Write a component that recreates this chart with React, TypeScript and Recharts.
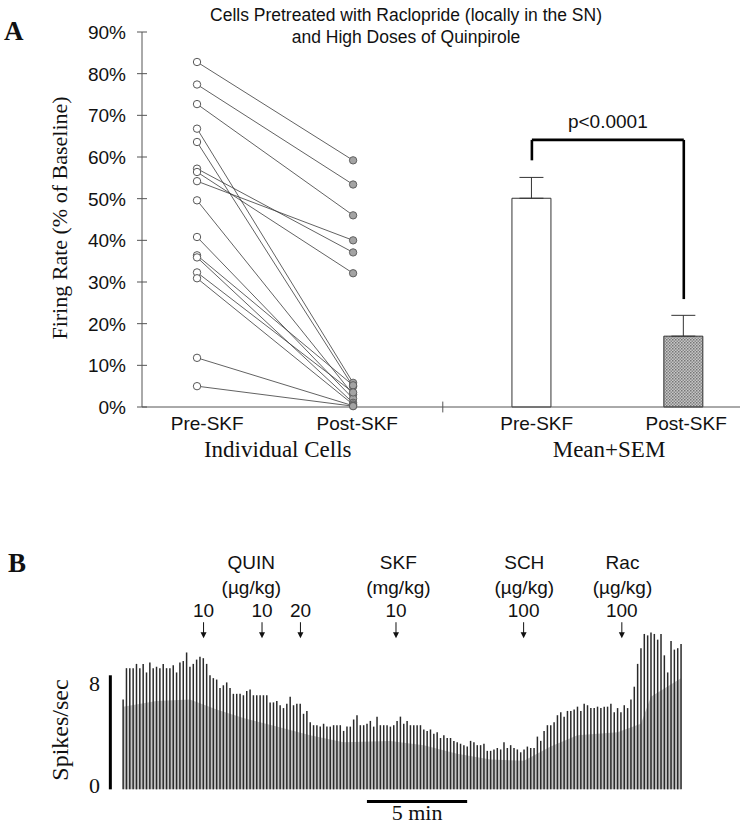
import React from 'react'
import {
  ComposedChart, Scatter, Bar, Cell, ErrorBar, Area, XAxis, YAxis, ReferenceLine, ReferenceDot,
} from 'recharts'

const SANS = '"Liberation Sans", Arial, Helvetica, sans-serif'
const SERIF = '"Liberation Serif", "Times New Roman", Times, serif'

// ---- panel A : individual cells (firing rate, % of baseline)
const CELL_PRE = [82.8, 77.4, 72.7, 66.8, 63.6, 57.2, 56.4, 54.2, 49.6, 40.8, 36.4, 35.9, 32.3, 30.9, 11.8, 5.0]
const CELL_POST = [59.2, 53.4, 46.0, 5.8, 4.9, 37.1, 32.1, 40.0, 3.0, 2.0, 5.2, 1.0, 3.5, 0.6, 0.3, 0.2]

// ---- panel A : mean + SEM
const BAR_NAMES = ['Pre-SKF', 'Post-SKF']
const BAR_MEAN = [50.1, 17.0]
const BAR_SEM = [5.0, 5.0]

const X_TICK_LABELS = ['Pre-SKF', 'Post-SKF', 'Pre-SKF', 'Post-SKF']
const GROUP_LABELS = ['Individual Cells', 'Mean+SEM']
const PCT_TICKS = [0, 10, 20, 30, 40, 50, 60, 70, 80, 90]

// ---- panel B : rate histogram, 10 s bins (spikes/sec)
const BIN_SEC = 10
const RATE = [
  6.3, 8.5, 8.5, 8.5, 8.8, 8.5, 8.8, 8.2, 8.9, 8.5,
  8.6, 8.5, 8.8, 8.5, 8.5, 8.7, 8.2, 8.9, 9.0, 9.6,
  8.6, 8.8, 9.1, 9.3, 9.2, 8.8, 8.0, 7.8, 7.7, 7.1,
  7.3, 7.5, 7.1, 6.7, 6.7, 6.7, 6.6, 6.9, 7.0, 6.6,
  6.6, 6.6, 6.6, 6.6, 6.1, 6.1, 6.2, 5.9, 5.7, 6.0,
  6.5, 5.9, 6.0, 6.0, 5.3, 5.5, 4.7,
  4.5, 4.5, 4.4, 4.6, 4.4, 4.4, 4.5, 4.5, 4.5, 4.1,
  4.4, 4.4, 4.9, 5.2, 4.5, 4.5, 4.6, 4.8, 4.4, 5.1,
  4.5, 4.5, 4.5, 4.4, 4.5, 4.8, 5.1, 4.6, 4.8, 4.5,
  4.5, 4.5, 4.5, 4.2, 4.1, 4.2, 3.9, 4.0, 3.6, 3.8,
  3.6, 3.6, 3.4, 3.3, 3.2, 3.1, 3.0, 3.4, 3.3, 3.1,
  3.1, 3.2, 2.7, 2.7, 2.8,
  2.9, 2.8, 3.3, 2.9, 3.1, 2.9, 2.8, 2.6, 2.8, 3.0,
  2.9, 2.9, 3.7, 3.4, 4.1, 4.5, 4.5, 4.7, 5.2, 5.4,
  5.1, 5.5, 5.5, 5.6, 5.8, 5.5, 6.0, 5.9, 5.7, 5.7,
  5.8, 5.7, 5.8, 5.8, 6.0, 5.4, 5.7, 5.4, 5.9, 5.7,
  6.3, 7.2, 8.8, 9.9, 10.9, 10.8, 11.0, 10.9, 10.5, 10.9,
  9.4, 8.2, 10.4, 9.8, 9.9, 10.2,
]
// level of the grey (shorter bins) texture under the tall lines
const GREY_BINS = [0, 10, 20, 28, 36, 46, 56, 66, 80, 90, 100, 110, 120, 128, 136, 148, 155, 158, 167]
const GREY_LEVEL = [5.8, 6.2, 6.3, 5.6, 5.0, 4.4, 3.8, 3.3, 3.4, 3.1, 2.5, 2.1, 2.0, 3.0, 3.8, 4.0, 4.6, 6.5, 7.8]

const DOSE_TIMES = [241, 416, 531, 817, 1199, 1493]
const DOSE_LABELS = ['10', '10', '20', '10', '100', '100']
const DRUG_NAMES = ['QUIN', 'SKF', 'SCH', 'Rac']
const DRUG_UNITS = ['(µg/kg)', '(mg/kg)', '(µg/kg)', '(µg/kg)']
const DRUG_TIMES = [384, 824, 1201, 1495]

// layout
const PRE_X = 0.92
const POST_X = 3.53
const BAR_X = [6.52, 9.06]
const DIVIDER_X = 5.03
const LABEL_TICKS = [1.09, 3.6, 6.6, 9.1]
const GROUP_TICKS = [2.27, 7.81]
const ARROW_TIP = 10.6

const barRows = BAR_NAMES.map((name, i) => ({
  name, x: BAR_X[i], mean: BAR_MEAN[i], err: [0, BAR_SEM[i]],
}))

const cells = CELL_PRE.map((pre, i) => [
  { x: PRE_X, y: pre, phase: 'pre' },
  { x: POST_X, y: CELL_POST[i], phase: 'post' },
])
const allPoints = cells.flat()

const greyAt: Record<number, number> = {}
GREY_BINS.forEach((b, i) => { greyAt[b] = GREY_LEVEL[i] })
const traceRows = RATE.map((r, i) => ({ t: i * BIN_SEC, rate: r, grey: greyAt[i] }))

function PctTick(props: any) {
  const { x, y, payload } = props
  return (
    <g>
      <line x1={x + 11} x2={x + 21} y1={y} y2={y} stroke="#555" />
      <text x={x} y={y} dy="0.36em" textAnchor="end" fontSize={19} fontFamily={SANS} fill="#111">
        {payload.value}%
      </text>
    </g>
  )
}

function RateTick(props: any) {
  const { x, y, payload } = props
  const dy = payload.value > 0 ? 16 : 4
  return (
    <text x={x} y={y + dy} textAnchor="end" fontSize={22} fontFamily={SERIF} fill="#111">
      {payload.value}
    </text>
  )
}

function CellDot(props: any) {
  const { cx, cy, payload } = props
  const pre = payload.phase === 'pre'
  return <circle cx={cx} cy={cy} r={3.7} fill={pre ? '#fff' : '#a3a3a3'} stroke={pre ? '#444' : '#555'} strokeWidth={0.9} />
}

function DoseArrow(props: any) {
  const { cx, cy, dose } = props
  return (
    <g>
      <text x={cx} y={cy - 21} textAnchor="middle" fontSize={19} fontFamily={SANS} fill="#111">{dose}</text>
      <line x1={cx} x2={cx} y1={cy - 16} y2={cy - 5} stroke="#111" strokeWidth={1} />
      <path d={`M${cx - 3},${cy - 6} L${cx + 3},${cy - 6} L${cx},${cy} Z`} fill="#111" />
    </g>
  )
}

function DrugLabel(props: any) {
  const { cx, cy, name, unit } = props
  return (
    <g fontSize={19} fontFamily={SANS} fill="#111" textAnchor="middle">
      <text x={cx} y={cy - 69}>{name}</text>
      <text x={cx} y={cy - 44}>{unit}</text>
    </g>
  )
}

function PanelA() {
  return (
    <ComposedChart width={755} height={470} data={barRows} margin={{ top: 32, right: 15, bottom: 8, left: 0 }}>
      <XAxis
        type="number" dataKey="x" domain={[0, 10]} ticks={LABEL_TICKS}
        tickFormatter={(_v: any, i: number) => X_TICK_LABELS[i]}
        axisLine={{ stroke: '#555' }} tickLine={false} tickSize={6} tickMargin={4} height={30}
        tick={{ fontSize: 19, fontFamily: SANS, fill: '#111' }} interval={0}
      />
      <XAxis
        xAxisId="grp" type="number" dataKey="x" domain={[0, 10]} ticks={GROUP_TICKS}
        tickFormatter={(_v: any, i: number) => GROUP_LABELS[i]}
        axisLine={false} tickLine={false} tickSize={0} tickMargin={4} height={25}
        tick={{ fontSize: 23, fontFamily: SERIF, fill: '#111' }} interval={0}
      />
      <YAxis
        type="number" dataKey="y" domain={[0, 90]} ticks={PCT_TICKS} width={142}
        axisLine={{ stroke: '#555' }} tickLine={false} tickSize={5} tickMargin={11} tick={PctTick} interval={0}
      />
      {cells.map((pts, i) => (
        <Scatter key={i} data={pts} line={{ stroke: '#3a3a3a', strokeWidth: 0.8 }} shape={() => <g />} isAnimationActive={false} />
      ))}
      <Scatter data={allPoints} shape={CellDot} isAnimationActive={false} />
      <Bar dataKey="mean" barSize={39} stroke="#333" strokeWidth={1} isAnimationActive={false}>
        <Cell fill="#fff" />
        <Cell fill="url(#stipple)" />
        <ErrorBar dataKey="err" width={12} stroke="#333" strokeWidth={1} direction="y" />
      </Bar>
      <ReferenceLine segment={[{ x: DIVIDER_X, y: -1.3 }, { x: DIVIDER_X, y: 1.3 }]} stroke="#555" ifOverflow="visible" />
      <ReferenceLine
        segment={[{ x: BAR_X[0], y: 64.1 }, { x: BAR_X[1], y: 64.1 }]} stroke="#000" strokeWidth={2.6} ifOverflow="visible"
        label={{ value: 'p<0.0001', position: 'top', offset: 12, fontSize: 19, fontFamily: SANS, fill: '#111' }}
      />
      <ReferenceLine segment={[{ x: BAR_X[0], y: 64.1 }, { x: BAR_X[0], y: 59.2 }]} stroke="#000" strokeWidth={2.6} ifOverflow="visible" />
      <ReferenceLine segment={[{ x: BAR_X[1], y: 64.1 }, { x: BAR_X[1], y: 25.9 }]} stroke="#000" strokeWidth={2.6} ifOverflow="visible" />
    </ComposedChart>
  )
}

function PanelB() {
  return (
    <ComposedChart width={755} height={287} data={traceRows} margin={{ top: 64, right: 64, bottom: 2, left: 0 }}>
      <XAxis type="number" dataKey="t" domain={[-60, 1700]} hide />
      <YAxis
        type="number" domain={[-2.5, 13]} ticks={[0, 8]} width={103}
        axisLine={false} tickLine={false} tickSize={0} tickMargin={3} tick={RateTick} interval={0}
      />
      <Area dataKey="grey" type="linear" connectNulls baseValue={0} fill="#c3c3c3" fillOpacity={1} stroke="none" isAnimationActive={false} />
      <Bar dataKey="rate" barSize={1.5} fill="#2a2a2a" isAnimationActive={false} />
      <ReferenceLine segment={[{ x: -38, y: 0 }, { x: -38, y: 8 }]} stroke="#000" strokeWidth={3} ifOverflow="visible" />
      <ReferenceLine
        segment={[{ x: 730, y: -0.85 }, { x: 1030, y: -0.85 }]} stroke="#000" strokeWidth={3} ifOverflow="visible"
        label={{ value: '5 min', position: 'bottom', offset: 3, fontSize: 22, fontFamily: SERIF, fill: '#111' }}
      />
      {DOSE_TIMES.map((t, i) => (
        <ReferenceDot key={'d' + i} x={t} y={ARROW_TIP} ifOverflow="visible"
          shape={(p: any) => <DoseArrow {...p} dose={DOSE_LABELS[i]} />} />
      ))}
      {DRUG_TIMES.map((t, i) => (
        <ReferenceDot key={'g' + i} x={t} y={ARROW_TIP} ifOverflow="visible"
          shape={(p: any) => <DrugLabel {...p} name={DRUG_NAMES[i]} unit={DRUG_UNITS[i]} />} />
      ))}
    </ComposedChart>
  )
}

export default function App() {
  return (
    <div style={{ position: 'absolute', left: 0, top: 0, width: 755, height: 827, background: '#fff' }}>
      <svg width={0} height={0} style={{ position: 'absolute' }}>
        <defs>
          <pattern id="stipple" width={3} height={3} patternUnits="userSpaceOnUse">
            <rect width={3} height={3} fill="#c6c6c6" />
            <rect width={1.5} height={1.5} fill="#767676" />
            <rect x={1.5} y={1.5} width={1.5} height={1.5} fill="#8a8a8a" />
          </pattern>
        </defs>
      </svg>
      <div style={{ position: 'absolute', left: 0, top: 0 }}>
        <PanelA />
      </div>
      <div style={{ position: 'absolute', left: 0, top: 540 }}>
        <PanelB />
      </div>
      <svg width={755} height={827} style={{ position: 'absolute', left: 0, top: 0, pointerEvents: 'none' }}>
        <text x={4} y={40} fontSize={27} fontWeight="bold" fontFamily={SERIF} fill="#111">A</text>
        <text x={406} y={21} textAnchor="middle" fontSize={17.5} fontFamily={SANS} fill="#111">
          Cells Pretreated with Raclopride (locally in the SN)
        </text>
        <text x={406} y={43} textAnchor="middle" fontSize={17.5} fontFamily={SANS} fill="#111">
          and High Doses of Quinpirole
        </text>
        <text x={67} y={218} transform="rotate(-90 67 218)" textAnchor="middle" fontSize={22} fontFamily={SERIF} fill="#111">
          Firing Rate (% of Baseline)
        </text>
        <text x={8} y={572} fontSize={27} fontWeight="bold" fontFamily={SERIF} fill="#111">B</text>
        <text x={68} y={730} transform="rotate(-90 68 730)" textAnchor="middle" fontSize={24} fontFamily={SERIF} fill="#111">
          Spikes/sec
        </text>
      </svg>
    </div>
  )
}
